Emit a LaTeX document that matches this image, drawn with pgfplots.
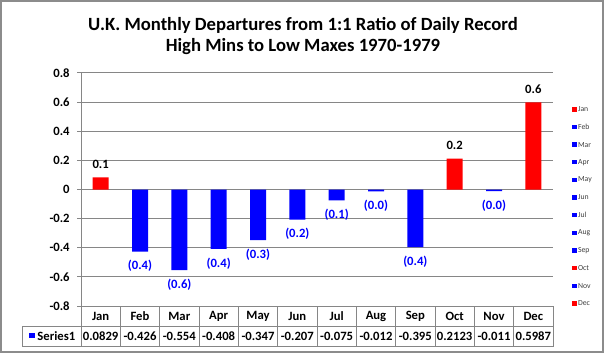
\documentclass[border=0pt]{standalone}
\usepackage{pgfplots}
\pgfplotsset{compat=1.18}
\usepackage{pgfplotstable}
\usepackage{fontspec}
\setmainfont{Carlito}
\definecolor{xlblue}{RGB}{0,0,255}
\definecolor{xlred}{RGB}{255,0,0}
\definecolor{xlgrid}{RGB}{134,134,134}
\definecolor{xlframe}{RGB}{140,140,140}

\pgfplotstableread{
x y lab
0 0.0829 0.1
9 0.2123 0.2
11 0.5987 0.6
}\postab
\pgfplotstableread{
x y lab
1 -0.426 (0.4)
2 -0.554 (0.6)
3 -0.408 (0.4)
4 -0.347 (0.3)
5 -0.207 (0.2)
6 -0.075 (0.1)
7 -0.012 (0.0)
8 -0.395 (0.4)
10 -0.011 (0.0)
}\negtab

\begin{document}
\begin{tikzpicture}
\begin{scope}[x=0.75pt,y=-0.75pt]
\useasboundingbox (0,0) rectangle (606,354);
\fill[white] (0,0) rectangle (606,354);
\draw[xlframe, line width=1.1pt] (1,1) rectangle (603,352);
\node[font=\fontsize{14}{16}\selectfont\bfseries, anchor=base, inner sep=0pt] at (303,30) {U.K. Monthly Departures from 1:1 Ratio of Daily Record};
\node[font=\fontsize{14}{16}\selectfont\bfseries, anchor=base, inner sep=0pt] at (303,51.7) {High Mins to Low Maxes 1970-1979};
\end{scope}
\begin{axis}[
  at={(60.75pt,-229.5pt)}, anchor=south west,
  scale only axis, width=354pt, height=174.75pt,
  xmin=-0.5, xmax=11.5, ymin=-0.8, ymax=0.8,
  ytick={-0.8,-0.6,-0.4,-0.2,0,0.2,0.4,0.6,0.8},
  xtick=\empty,
  axis x line=none, axis y line=left,
  axis line style={xlgrid,-,line width=0.75pt},
  tick align=outside, major tick length=3pt,
  y tick style={xlgrid,line width=0.75pt},
  ymajorgrids, major grid style={xlgrid,line width=0.75pt},
  yticklabel style={font=\fontsize{9.5}{11}\selectfont\bfseries, /pgf/number format/assume math mode=true, xshift=-2pt},
  /pgf/number format/fixed,
  clip=false,
]
\addplot[ybar, bar width=12pt, bar shift=0pt, fill=xlred, draw=none,
  point meta=explicit symbolic, nodes near coords,
  nodes near coords style={font=\fontsize{9.5}{11}\selectfont\bfseries, text=black, anchor=south, yshift=3pt}]
  table[x=x,y=y,meta=lab]{\postab};
\addplot[ybar, bar width=12pt, bar shift=0pt, fill=xlblue, draw=none,
  point meta=explicit symbolic, nodes near coords,
  nodes near coords style={font=\fontsize{9.5}{11}\selectfont\bfseries, text=xlblue, anchor=north, yshift=-3pt}]
  table[x=x,y=y,meta=lab]{\negtab};
\end{axis}
\begin{scope}[x=0.75pt,y=-0.75pt]
% data table
\draw[xlgrid, line width=0.75pt] (81,306) -- (81,346.5);
\foreach \i in {1,...,12} {\draw[xlgrid, line width=0.75pt] ({81+39.333*\i},306) -- ({81+39.333*\i},346.5);}
\draw[xlgrid, line width=0.75pt] (22,326) -- (553,326);
\draw[xlgrid, line width=0.75pt] (22,346.5) -- (553,346.5);
\draw[xlgrid, line width=0.75pt] (22,326) -- (22,346.5);
\foreach \m [count=\i from 0] in {Jan,Feb,Mar,Apr,May,Jun,Jul,Aug,Sep,Oct,Nov,Dec}
  {\node[font=\fontsize{9.5}{11}\selectfont\bfseries] at ({81+39.333*(\i+0.5)},316) {\m};}
\foreach \v [count=\i from 0] in {0.0829,-0.426,-0.554,-0.408,-0.347,-0.207,-0.075,-0.012,-0.395,0.2123,-0.011,0.5987}
  {\node[font=\fontsize{9.5}{11}\selectfont\bfseries, inner sep=0pt] at ({81+39.333*(\i+0.5)},336.5) {\v};}
\fill[xlblue] (29.3,332.5) rectangle (34.8,338.2);
\node[font=\fontsize{9.5}{11}\selectfont\bfseries, anchor=west, inner sep=0pt] at (37.2,336.5) {Series1};
% legend
\foreach \m/\c [count=\i from 0] in {Jan/xlred,Feb/xlblue,Mar/xlblue,Apr/xlblue,May/xlblue,Jun/xlblue,Jul/xlblue,Aug/xlblue,Sep/xlblue,Oct/xlred,Nov/xlblue,Dec/xlred}
  {\fill[\c] (572.3,{109.3+17.64*\i-2.2}) rectangle (576.7,{109.3+17.64*\i+2.2});
   \node[font=\fontsize{5.8}{7}\selectfont, text=black!75, anchor=west, inner sep=0pt] at (577.8,{109.3+17.64*\i}) {\m};}
\end{scope}
\end{tikzpicture}
\end{document}
